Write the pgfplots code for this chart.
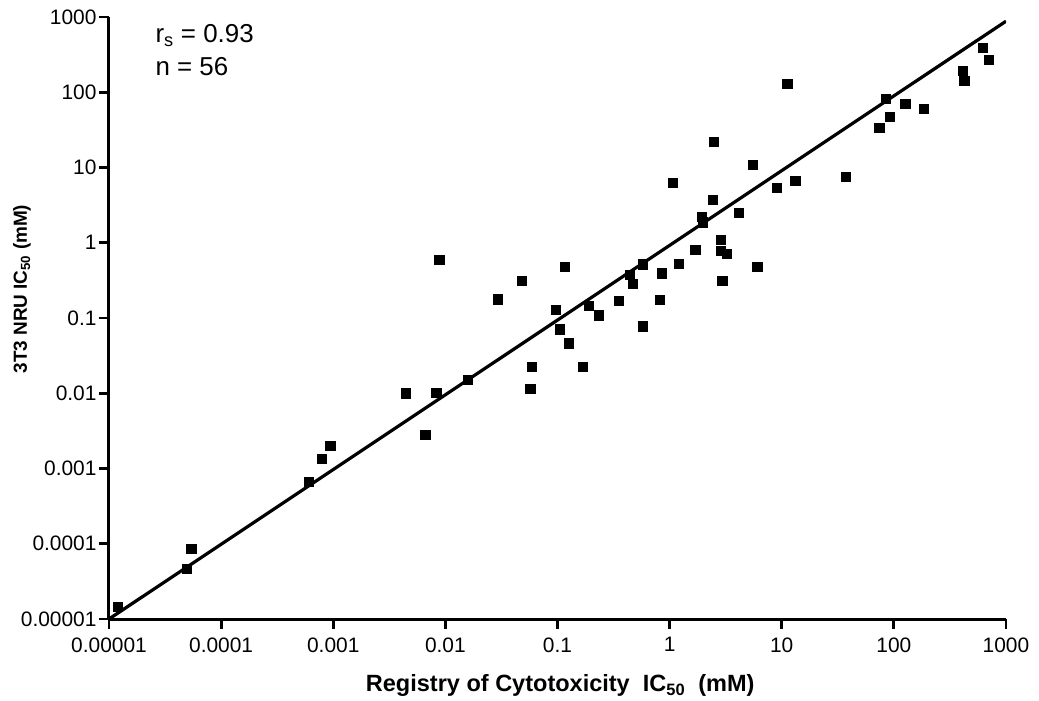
\documentclass[border=0pt]{standalone}
\usepackage{pgfplots}
\pgfplotsset{compat=1.18}
\usepackage{pgfplotstable}
\usepackage{fontspec}
\setmainfont{Liberation Sans}

\pgfplotstableread{
x y
1.2e-5 1.46e-5
4.93e-5 4.7e-5
5.4e-5 8.6e-5
6.0e-4 6.6e-4
7.9e-4 1.34e-3
9.4e-4 2.0e-3
4.4e-3 0.0100
6.6e-3 2.8e-3
8.3e-3 0.0101
8.8e-3 0.59
0.0158 0.0152
0.0293 0.178
0.0483 0.313
0.057 0.0115
0.059 0.0226
0.097 0.128
0.105 0.071
0.115 0.484
0.126 0.0463
0.168 0.0224
0.19 0.144
0.233 0.109
0.352 0.168
0.438 0.372
0.47 0.285
0.571 0.52
0.575 0.078
0.82 0.176
0.85 0.395
1.07 6.28
1.21 0.526
1.69 0.80
1.94 2.20
1.98 1.88
2.44 3.73
2.49 22.2
2.84 1.10
2.84 0.78
2.94 0.31
3.24 0.71
4.14 2.48
5.52 10.9
6.03 0.48
8.97 5.43
11.2 129
13.2 6.67
37 7.55
74 34.1
84 81.5
91.5 47.4
126 71.3
185 60
413 194
424 141
622 392
698 269
}\datatable

\pgfplotstableread{
x y
1e-5 1e-5
1000 880
}\fittable

\begin{document}
\begin{tikzpicture}
\path[use as bounding box] (-109bp,-82bp) rectangle (930bp,619bp);
\begin{axis}[
  at={(0,0)}, anchor=south west,
  scale only axis, width=897bp, height=602bp,
  xmode=log, ymode=log,
  xmin=1e-5, xmax=1000, ymin=1e-5, ymax=1000,
  axis lines*=left,
  axis line style={line width=3bp, black},
  xtick={1e-5,1e-4,1e-3,1e-2,1e-1,1,10,100,1000},
  xticklabels={0.00001,0.0001,0.001,0.01,0.1,1,10,100,1000},
  ytick={1e-5,1e-4,1e-3,1e-2,1e-1,1,10,100,1000},
  yticklabels={0.00001,0.0001,0.001,0.01,0.1,1,10,100,1000},
  xminorticks=false, yminorticks=false,
  tick align=outside, major tick length=10bp,
  tick style={line width=2.8bp, black},
  ticklabel style={font=\fontsize{21}{25}\selectfont},
  xticklabel style={yshift=-5bp},
  yticklabel style={xshift=1bp},
  xlabel={Registry of Cytotoxicity\ \ IC\textsubscript{50}\ \ (mM)},
  ylabel={3T3 NRU IC\textsubscript{50} (mM)},
  every axis x label/.style={at={(axis description cs:0.503,-0.121)}, anchor=base, font=\bfseries\fontsize{23.6}{28}\selectfont},
  every axis y label/.style={at={(axis description cs:-0.097,0.548)}, rotate=90, anchor=center, font=\bfseries\fontsize{19}{22}\selectfont},
]
\addplot[black, line width=3.2bp, no marks] table {\fittable};
\addplot[only marks, mark=square*, mark size=4.6bp, black] table {\datatable};
\node[anchor=base west, font=\fontsize{26}{30}\selectfont] at (rel axis cs:0.048,0.958) {r\textsubscript{s} = 0.93};
\node[anchor=base west, font=\fontsize{26}{30}\selectfont] at (rel axis cs:0.048,0.9025) {n = 56};
\end{axis}
\end{tikzpicture}
\end{document}
